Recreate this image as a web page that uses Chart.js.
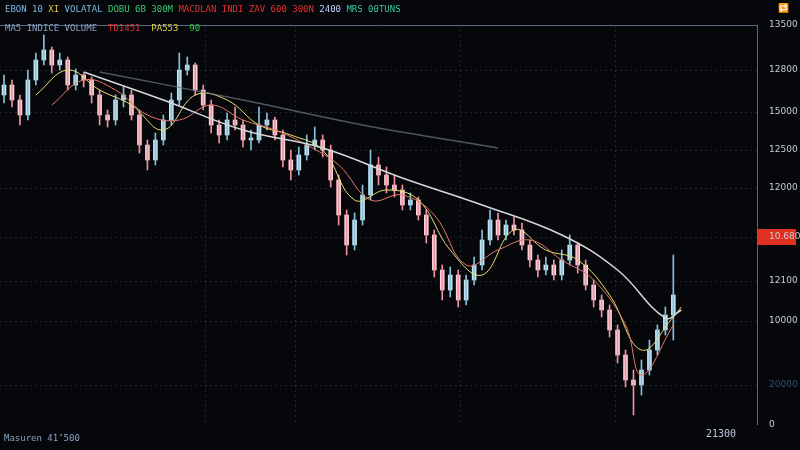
<!DOCTYPE html>
<html><head><meta charset="utf-8">
<script src="https://cdn.jsdelivr.net/npm/chart.js@4"></script>
<style>
html,body{margin:0;padding:0;background:#05070b;}
#wrap{position:relative;width:800px;height:450px;}
.t{position:absolute;font-family:"DejaVu Sans Mono",monospace;font-size:9px;white-space:nowrap;}
</style></head><body>
<div id="wrap"><canvas id="c" width="800" height="450"></canvas>
<div class="t" style="left:5px;top:4px;color:#7fb8e0">EBON 10 <span style="color:#e0c040">XI</span> VOLATAL <span style="color:#3cc870">DOBU 6B 300M</span> <span style="color:#e83030">MACDLAN INDI ZAV 600 300N</span> <span style="color:#c0d0ff">2400</span> <span style="color:#3cc8a0">MRS 00TUNS</span></div>
<div class="t" style="left:5px;top:23px;color:#8aa0c0">MA5 INDICE VOLUME <span style="color:#e83030">&nbsp;TD1451</span> <span style="color:#e0d040">&nbsp;PA553</span> <span style="color:#3cc850">&nbsp;90</span></div>
<div class="t" style="left:4px;top:433px;color:#8aa0c0">Masuren 41&#x2019;500</div>
<div class="t" style="left:706px;top:428px;color:#c0c8d8;font-size:10px">21300</div>
<div class="t" style="left:778px;top:3px;color:#c0c8d8">&#x1F501;</div>
</div>
<script>
const opens=[330,340,325,310,345,365,375,360,365,340,350,345,330,310,305,325,330,310,280,265,285,305,325,355,360,335,320,300,290,305,300,285,285,300,305,290,265,255,270,280,285,275,245,210,180,205,230,260,250,240,235,220,225,210,190,155,135,150,125,145,160,185,205,190,200,195,180,165,155,160,150,165,180,160,140,125,115,95,70,45,40,55,75,95,110];
const closes=[340,325,310,345,365,375,360,365,340,350,345,330,310,305,325,330,310,280,265,285,305,325,355,360,335,320,300,290,305,300,285,285,300,305,290,265,255,270,280,285,275,245,210,180,205,230,260,250,240,235,220,225,210,190,155,135,150,125,145,160,185,205,190,200,195,180,165,155,160,150,165,180,160,140,125,115,95,70,45,40,55,75,95,110,130];
const highs=[350,345,330,355,372,390,378,372,368,356,352,348,335,315,330,338,335,315,285,292,310,332,372,368,362,340,325,305,312,318,305,295,318,312,308,295,275,278,290,298,290,280,250,215,212,240,275,268,258,250,240,232,228,215,195,160,158,155,150,168,195,215,212,205,208,202,185,170,168,165,175,190,182,165,145,130,120,100,75,55,65,85,100,118,170];
const lows=[322,318,300,305,340,360,352,355,335,335,338,322,300,298,300,318,305,272,255,260,280,300,320,350,330,315,292,282,285,295,278,275,282,295,285,258,245,250,265,275,268,238,200,170,175,200,225,240,232,228,215,215,205,182,148,125,128,118,120,140,155,180,185,185,190,175,158,148,150,145,145,160,152,135,118,108,88,62,38,10,30,50,70,90,85];
const maLongIdx=[10,20,30,40,50,60,70,77,83,85];
const maLongVal=[353,325,295,277,247,220,190,155,107,115];
const maSlowIdx=[12,30,45,62];
const maSlowVal=[353,325,300,277];
const maYellowIdx=[4,8,12,16,20,24,28,32,36,40,44,48,52,56,60,64,68,72,76,80,84,85];
const maYellowVal=[330,355,335,320,295,330,325,300,290,275,225,235,225,175,150,195,175,165,130,75,108,118];
const maRedIdx=[6,10,14,18,22,26,30,34,38,42,46,50,54,58,62,66,70,74,78,80,84];
const maRedVal=[320,345,335,310,305,320,305,295,280,260,225,230,210,160,175,185,165,145,100,50,100];
const tickVals=[400,355,313,275,237,188,144,104,40,0];
const tickText=["13500","12800","15000","12500","12000","10.680","12100","10000","20000","0"];
const NCAT=95;
const labels=Array.from({length:NCAT},(_,i)=>String(i));
const up=opens.map((o,i)=>closes[i]>=o);
const bodyCol=up.map(u=>u?'#c6e4f0':'#f8d2d8');
const wickCol=up.map(u=>u?'#86c0dc':'#f090a0');
function sparse(idx,val){const a=new Array(NCAT).fill(null);idx.forEach((k,j)=>a[k]=val[j]);return a;}
const redPlugin={id:'red',beforeDraw(ch){const {ctx,chartArea:a,scales:{y}}=ch;const ry=y.getPixelForValue(188);ctx.save();ctx.fillStyle='#e03020';ctx.fillRect(a.right+1,ry-8,38,16);ctx.restore();}};
const gridPlugin={id:'grid',beforeDatasetsDraw(ch){const {ctx,chartArea:a,scales:{y}}=ch;ctx.save();ctx.strokeStyle='rgba(120,130,150,0.25)';ctx.setLineDash([2,3]);ctx.lineWidth=1;
tickVals.forEach(v=>{if(v===0||v===400)return;const py=Math.round(y.getPixelForValue(v))+0.5;ctx.beginPath();ctx.moveTo(a.left,py);ctx.lineTo(a.right,py);ctx.stroke();});
[205,295,460,615].forEach(px=>{ctx.beginPath();ctx.moveTo(px+0.5,a.top);ctx.lineTo(px+0.5,a.bottom);ctx.stroke();});
ctx.setLineDash([]);ctx.strokeStyle='#5a6880';ctx.beginPath();ctx.moveTo(a.left,a.top+0.5);ctx.lineTo(a.right,a.top+0.5);ctx.moveTo(a.right+0.5,a.top);ctx.lineTo(a.right+0.5,a.bottom);ctx.stroke();
ctx.restore();}};
new Chart(document.getElementById('c'),{
data:{labels,datasets:[
{type:'line',data:sparse(maSlowIdx,maSlowVal),borderColor:'rgba(110,120,135,0.7)',borderWidth:1.5,pointRadius:0,spanGaps:true,tension:0.4},
{type:'line',data:sparse(maLongIdx,maLongVal),borderColor:'#d8d8dc',borderWidth:1.5,pointRadius:0,spanGaps:true,tension:0.4},
{type:'line',data:sparse(maRedIdx,maRedVal),borderColor:'#e87868',borderWidth:1,pointRadius:0,spanGaps:true,tension:0.4},
{type:'line',data:sparse(maYellowIdx,maYellowVal),borderColor:'#e8e070',borderWidth:1,pointRadius:0,spanGaps:true,tension:0.4},
{type:'bar',grouped:false,data:lows.map((l,i)=>[l,highs[i]]),backgroundColor:wickCol,barThickness:1},
{type:'bar',grouped:false,data:opens.map((o,i)=>[o,closes[i]]),backgroundColor:bodyCol,barThickness:4,minBarLength:2}
]},
options:{responsive:false,animation:false,maintainAspectRatio:false,
layout:{padding:{top:25,bottom:25,left:0,right:0}},
plugins:{legend:{display:false},tooltip:{enabled:false}},
scales:{x:{display:false},
y:{position:'right',min:0,max:400,grid:{display:false},border:{display:false},
afterFit(s){s.width=43;},
afterBuildTicks(s){s.ticks=tickVals.map(v=>({value:v}));},
ticks:{autoSkip:false,padding:4,font:{family:'DejaVu Sans',size:9},
color:c=>c.tick.value===40?'#305070':'#c8ccd8',
callback:(v)=>tickText[tickVals.indexOf(v)]}}}},
plugins:[redPlugin,gridPlugin]});
</script></body></html>
